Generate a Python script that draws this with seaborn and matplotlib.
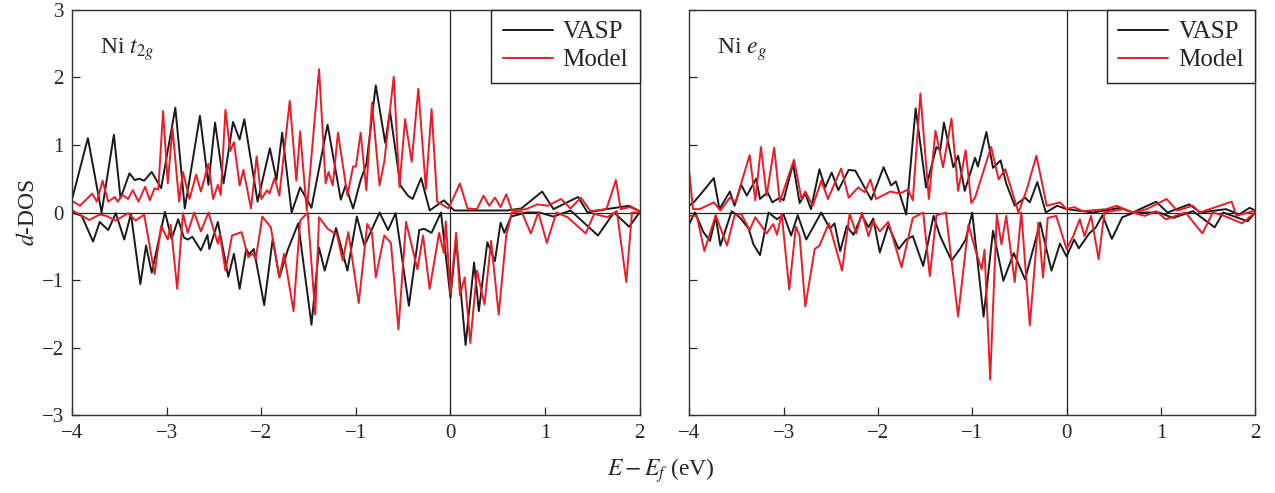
import numpy as np
import pandas as pd
import matplotlib
matplotlib.use("Agg")
import matplotlib.pyplot as plt
import seaborn as sns

# ---------------- data (E - Ef in eV, d-DOS) ----------------
t2g_vasp_up = [(-4.0, 0.21), (-3.835, 1.10), (-3.69, 0.0), (-3.56, 1.15), (-3.49, 0.21), (-3.395, 0.58),
               (-3.34, 0.48), (-3.29, 0.50), (-3.24, 0.47), (-3.16, 0.60), (-3.06, 0.36), (-2.91, 1.55),
               (-2.81, 0.06), (-2.65, 1.43), (-2.56, 0.41), (-2.49, 1.33), (-2.40, 0.43), (-2.30, 1.34),
               (-2.23, 1.08), (-2.18, 1.38), (-2.04, 0.16), (-1.91, 0.95), (-1.84, 0.48), (-1.78, 1.18),
               (-1.68, 0.0), (-1.59, 0.37), (-1.47, 0.07), (-1.30, 1.30), (-1.16, 0.19), (-1.11, 0.40),
               (-1.03, 0.06), (-0.95, 0.48), (-0.89, 0.71), (-0.79, 1.88), (-0.69, 1.03), (-0.64, 1.50),
               (-0.53, 0.40), (-0.45, 0.25), (-0.40, 0.20), (-0.31, 0.51), (-0.22, 0.03), (-0.07, 0.18),
               (0.04, 0.03), (0.30, 0.03), (0.60, 0.03), (0.75, 0.06), (0.97, 0.31), (1.09, 0.05),
               (1.35, 0.23), (1.45, 0.0), (1.65, 0.05), (1.89, 0.10), (2.0, 0.02)]

t2g_model_up = [(-4.0, 0.17), (-3.92, 0.10), (-3.79, 0.28), (-3.74, 0.16), (-3.68, 0.47), (-3.62, 0.16),
                (-3.55, 0.23), (-3.52, 0.16), (-3.47, 0.26), (-3.41, 0.20), (-3.36, 0.33), (-3.30, 0.16),
                (-3.23, 0.38), (-3.18, 0.18), (-3.13, 0.36), (-3.09, 0.34), (-3.04, 1.50), (-2.99, 0.43),
                (-2.94, 1.25), (-2.87, 0.16), (-2.83, 0.60), (-2.76, 0.20), (-2.69, 0.56), (-2.64, 0.31),
                (-2.56, 0.72), (-2.51, 0.20), (-2.46, 0.41), (-2.43, 0.26), (-2.38, 1.52), (-2.33, 0.91),
                (-2.29, 1.04), (-2.23, 0.40), (-2.19, 0.63), (-2.11, 0.06), (-2.05, 0.83), (-2.00, 0.20),
                (-1.94, 0.33), (-1.915, 0.28), (-1.86, 0.51), (-1.81, 0.25), (-1.70, 1.65), (-1.63, 0.47),
                (-1.59, 1.20), (-1.52, 0.03), (-1.39, 2.12), (-1.32, 0.43), (-1.29, 0.60), (-1.245, 0.40),
                (-1.19, 1.18), (-1.09, 0.25), (-1.03, 0.68), (-1.00, 0.68), (-0.95, 1.18), (-0.89, 0.33),
                (-0.83, 1.63), (-0.75, 0.40), (-0.70, 0.75), (-0.60, 2.01), (-0.54, 0.38), (-0.48, 1.38),
                (-0.41, 0.75), (-0.34, 1.83), (-0.26, 0.35), (-0.20, 1.53), (-0.14, 0.16), (-0.02, 0.06),
                (0.10, 0.43), (0.18, 0.06), (0.28, 0.05), (0.35, 0.25), (0.41, 0.10), (0.47, 0.22),
                (0.53, 0.08), (0.59, 0.27), (0.65, 0.03), (0.80, 0.05), (0.92, 0.12), (1.03, 0.10),
                (1.17, 0.20), (1.27, 0.06), (1.38, 0.22), (1.48, 0.02), (1.65, 0.05), (1.75, 0.48),
                (1.80, 0.05), (1.90, 0.08), (2.0, 0.02)]

t2g_vasp_dn = [(-4.0, 0.0), (-3.90, -0.05), (-3.78, -0.43), (-3.71, -0.14), (-3.62, -0.26), (-3.54, -0.01),
               (-3.45, -0.40), (-3.38, -0.02), (-3.28, -1.06), (-3.22, -0.49), (-3.16, -0.89), (-3.02, 0.01),
               (-2.95, -0.39), (-2.88, -0.10), (-2.82, -0.37), (-2.78, -0.40), (-2.73, -0.36), (-2.64, -0.56),
               (-2.57, -0.33), (-2.55, -0.54), (-2.46, -0.14), (-2.35, -0.95), (-2.29, -0.61), (-2.23, -1.13),
               (-2.16, -0.54), (-2.13, -0.62), (-2.08, -0.54), (-1.97, -1.37), (-1.88, -0.39), (-1.81, -0.96),
               (-1.72, -0.55), (-1.61, -0.16), (-1.47, -1.66), (-1.39, -0.52), (-1.33, -0.86), (-1.21, -0.23),
               (-1.09, -0.86), (-0.99, -0.06), (-0.91, -0.49), (-0.75, 0.0), (-0.66, -0.26), (-0.58, -0.01),
               (-0.44, -1.38), (-0.33, -0.26), (-0.28, -0.24), (-0.20, -0.30), (-0.10, 0.0), (0.0, -1.26),
               (0.06, -0.39), (0.16, -1.96), (0.25, -0.74), (0.30, -1.46), (0.39, -0.44), (0.47, -0.72),
               (0.53, -0.15), (0.57, -0.30), (0.64, -0.06), (0.80, 0.0), (0.94, 0.0), (1.09, -0.06),
               (1.27, 0.03), (1.56, -0.34), (1.73, 0.0), (1.89, -0.21), (2.0, 0.0)]

t2g_model_dn = [(-4.0, 0.03), (-3.82, -0.11), (-3.71, -0.03), (-3.64, -0.05), (-3.54, -0.12), (-3.41, -0.01),
                (-3.33, -0.12), (-3.24, -0.03), (-3.13, -0.91), (-3.06, -0.20), (-2.99, -0.40), (-2.96, -0.18),
                (-2.89, -1.13), (-2.83, -0.01), (-2.78, -0.30), (-2.71, 0.0), (-2.64, -0.28), (-2.56, 0.0),
                (-2.46, -0.46), (-2.44, -0.32), (-2.38, -0.86), (-2.31, -0.34), (-2.21, -0.29), (-2.14, -0.66),
                (-2.09, -0.61), (-2.06, -0.69), (-1.99, -0.06), (-1.90, -0.22), (-1.81, -0.96), (-1.76, -0.61),
                (-1.66, -1.46), (-1.59, -0.12), (-1.51, 0.0), (-1.43, -1.51), (-1.39, -0.07), (-1.30, -0.24),
                (-1.20, -0.33), (-1.14, -0.71), (-1.08, -0.29), (-0.97, -1.34), (-0.88, -0.17), (-0.83, -0.30),
                (-0.79, -0.96), (-0.70, -0.34), (-0.63, -0.45), (-0.55, -1.73), (-0.47, -0.14), (-0.35, -0.84),
                (-0.29, -0.34), (-0.22, -1.13), (-0.12, -0.30), (-0.07, -0.60), (-0.05, -0.13), (0.0, -1.20),
                (0.06, -0.30), (0.10, -1.22), (0.15, -0.96), (0.21, -1.93), (0.28, -0.86), (0.36, -1.36),
                (0.43, -0.42), (0.51, -1.51), (0.59, -0.34), (0.65, 0.0), (0.75, 0.02), (0.85, -0.31),
                (0.93, 0.0), (1.02, -0.45), (1.12, 0.0), (1.24, -0.07), (1.43, -0.31), (1.52, -0.02),
                (1.66, -0.07), (1.76, 0.02), (1.86, -1.03), (1.92, 0.0), (2.0, 0.0)]

eg_vasp_up = [(-4.0, 0.10), (-3.94, 0.17), (-3.85, 0.32), (-3.74, 0.51), (-3.68, 0.05), (-3.57, 0.31),
              (-3.52, 0.10), (-3.45, 0.41), (-3.39, 0.25), (-3.29, 0.50), (-3.25, 0.20), (-3.17, 0.30),
              (-3.12, 0.15), (-3.04, 0.22), (-3.00, 0.18), (-2.90, 0.72), (-2.83, 0.14), (-2.77, 0.28),
              (-2.71, 0.05), (-2.62, 0.64), (-2.56, 0.37), (-2.49, 0.59), (-2.42, 0.33), (-2.31, 0.63),
              (-2.24, 0.62), (-2.07, 0.19), (-1.94, 0.67), (-1.86, 0.40), (-1.81, 0.46), (-1.70, -0.03),
              (-1.60, 1.54), (-1.49, 0.37), (-1.38, 0.97), (-1.34, 0.92), (-1.30, 1.33), (-1.20, 0.67),
              (-1.15, 0.84), (-1.08, 0.32), (-0.97, 0.81), (-0.94, 0.68), (-0.85, 1.19), (-0.78, 0.66),
              (-0.70, 0.77), (-0.64, 0.43), (-0.55, 0.10), (-0.44, 0.22), (-0.39, 0.15), (-0.31, 0.45),
              (-0.22, 0.0), (-0.10, 0.10), (0.0, 0.05), (0.28, 0.0), (0.49, 0.05), (0.56, 0.07),
              (0.70, 0.0), (0.95, 0.16), (1.07, 0.0), (1.30, 0.12), (1.42, 0.0), (1.69, 0.05),
              (1.83, -0.03), (1.94, 0.07), (2.0, 0.03)]

eg_model_up = [(-4.0, 0.60), (-3.96, 0.05), (-3.89, 0.05), (-3.74, 0.15), (-3.67, 0.03), (-3.57, 0.22),
               (-3.51, 0.15), (-3.36, 0.85), (-3.30, 0.18), (-3.24, 0.97), (-3.18, 0.25), (-3.10, 0.96),
               (-3.04, 0.16), (-2.89, 0.78), (-2.81, 0.20), (-2.77, 0.31), (-2.69, 0.10), (-2.60, 0.47),
               (-2.53, 0.20), (-2.39, 0.65), (-2.31, 0.22), (-2.21, 0.37), (-2.14, 0.30), (-2.08, 0.49),
               (-2.02, 0.20), (-1.87, 0.31), (-1.77, 0.28), (-1.68, 0.34), (-1.63, 0.18), (-1.55, 1.76),
               (-1.46, 0.20), (-1.39, 1.21), (-1.31, 0.67), (-1.22, 1.39), (-1.15, 0.32), (-1.07, 0.92),
               (-1.01, 0.14), (-0.97, 0.22), (-0.80, 0.97), (-0.72, 0.49), (-0.65, 0.64), (-0.51, 0.0),
               (-0.42, 0.35), (-0.32, 0.84), (-0.21, 0.10), (-0.07, 0.15), (0.0, 0.05), (0.08, 0.08),
               (0.17, 0.02), (0.42, 0.05), (0.53, 0.10), (0.70, 0.0), (0.85, 0.05), (1.06, 0.20),
               (1.17, 0.03), (1.34, 0.10), (1.41, 0.0), (1.75, 0.16), (1.80, -0.05), (2.0, 0.03)]

eg_vasp_dn = [(-4.0, -0.17), (-3.94, 0.0), (-3.85, -0.29), (-3.78, -0.42), (-3.72, -0.06), (-3.67, -0.49),
              (-3.55, 0.02), (-3.46, -0.08), (-3.37, -0.24), (-3.32, -0.47), (-3.25, -0.63), (-3.16, 0.0),
              (-3.07, -0.10), (-3.00, -0.03), (-2.92, -0.34), (-2.85, -0.04), (-2.76, -0.40), (-2.60, 0.0),
              (-2.51, -0.24), (-2.46, -0.16), (-2.40, -0.57), (-2.33, -0.20), (-2.26, -0.33), (-2.17, -0.04),
              (-2.10, -0.22), (-2.05, -0.09), (-1.98, -0.59), (-1.89, -0.19), (-1.78, -0.54), (-1.70, -0.40),
              (-1.63, -0.35), (-1.52, -0.79), (-1.41, -0.05), (-1.34, -0.35), (-1.22, -0.71), (-1.13, -0.54),
              (-1.07, -0.40), (-1.00, 0.0), (-0.88, -1.54), (-0.78, -0.27), (-0.67, -1.01), (-0.56, -0.60),
              (-0.44, -0.99), (-0.28, -0.15), (-0.16, -0.86), (-0.07, -0.46), (0.0, -0.65), (0.08, -0.40),
              (0.13, -0.53), (0.24, -0.31), (0.31, -0.22), (0.38, -0.04), (0.48, -0.39), (0.59, -0.07),
              (0.72, 0.0), (0.98, 0.0), (1.13, -0.08), (1.34, 0.02), (1.57, -0.22), (1.66, 0.0),
              (1.92, -0.13), (2.0, 0.0)]

eg_model_dn = [(-4.0, -0.05), (-3.92, -0.05), (-3.84, -0.57), (-3.72, -0.04), (-3.60, -0.49), (-3.52, -0.04),
               (-3.45, -0.02), (-3.36, -0.26), (-3.30, -0.07), (-3.18, -0.31), (-3.11, -0.17), (-3.07, -0.33),
               (-3.02, -0.02), (-2.94, -1.14), (-2.87, -0.21), (-2.83, -0.35), (-2.77, -1.39), (-2.67, -0.54),
               (-2.62, -0.49), (-2.52, -0.16), (-2.38, -0.86), (-2.30, -0.02), (-2.23, -0.31), (-2.17, 0.0),
               (-2.10, -0.35), (-2.05, -0.13), (-1.98, -0.28), (-1.89, -0.14), (-1.75, -0.81), (-1.63, -0.08),
               (-1.52, 0.0), (-1.45, -0.94), (-1.38, -0.04), (-1.28, 0.0), (-1.15, -1.54), (-1.04, -0.18),
               (-0.97, -0.54), (-0.90, -0.84), (-0.87, -0.55), (-0.81, -2.47), (-0.74, -0.03), (-0.69, -0.47),
               (-0.64, -0.05), (-0.55, -1.03), (-0.48, 0.0), (-0.39, -1.67), (-0.30, -0.15), (-0.25, -0.96),
               (-0.20, -0.08), (-0.11, -0.05), (0.0, -0.54), (0.07, -0.35), (0.14, -0.10), (0.19, -0.35),
               (0.26, -0.05), (0.34, -0.69), (0.40, 0.0), (0.60, 0.05), (0.70, 0.0), (0.83, -0.05),
               (0.95, 0.02), (1.05, -0.10), (1.26, 0.0), (1.44, -0.31), (1.55, 0.0), (1.67, -0.05),
               (1.86, -0.16), (2.0, 0.0)]

panel_labels = [r"Ni $t_{2g}$", r"Ni $e_g$"]
series_names = ["VASP", "Model"]
x_ticks = [-4, -3, -2, -1, 0, 1, 2]
y_ticks = [-3, -2, -1, 0, 1, 2, 3]

# ---------------- style ----------------
sns.set_style("ticks")
plt.rcParams["font.family"] = ["Liberation Serif", "DejaVu Serif"]
plt.rcParams["mathtext.fontset"] = "stix"
plt.rcParams["axes.unicode_minus"] = True

colors = {"VASP": "#1a1a1a", "Model": "#ec1c24"}

fig = plt.figure(figsize=(12.75, 4.93), dpi=100)
ax1 = fig.add_axes([0.0567, 0.1576, 0.4449, 0.8227])
ax2 = fig.add_axes([0.5406, 0.1576, 0.4439, 0.8227])

panels = [
    (ax1, panel_labels[0], {"VASP": (t2g_vasp_up, t2g_vasp_dn), "Model": (t2g_model_up, t2g_model_dn)}),
    (ax2, panel_labels[1], {"VASP": (eg_vasp_up, eg_vasp_dn), "Model": (eg_model_up, eg_model_dn)}),
]

for ax, label, data in panels:
    for name in series_names:
        up, dn = data[name]
        for k, part in enumerate((up, dn)):
            df = pd.DataFrame(part, columns=["E", "DOS"])
            sns.lineplot(data=df, x="E", y="DOS", ax=ax, color=colors[name], lw=1.4,
                         estimator=None, sort=False, legend=False)
    for ln in ax.get_lines():
        ln.set_solid_joinstyle("round")
    ax.axhline(0, color="#222222", lw=0.9, zorder=1)
    ax.axvline(0, color="#222222", lw=0.9, zorder=1)
    ax.set_xlim(-4, 2)
    ax.set_ylim(-3, 3)
    ax.set_xticks(x_ticks)
    ax.set_yticks(y_ticks)
    ax.tick_params(direction="in", length=6, width=0.9, labelsize=15, pad=6,
                   top=False, right=False)
    for sp in ax.spines.values():
        sp.set_linewidth(1.0)
        sp.set_color("#333333")
    ax.set_xlabel("")
    ax.set_ylabel("")
    ax.text(0.049, 0.935, label, transform=ax.transAxes, fontsize=17, va="top", ha="left")
    handles = [plt.Line2D([], [], color=colors[n], lw=1.4) for n in series_names]
    leg = ax.legend(handles, series_names, loc="upper right", borderaxespad=0.0,
                    fancybox=False, framealpha=1, edgecolor="#222222", fontsize=18,
                    handlelength=2.0, handletextpad=0.4, borderpad=0.45, labelspacing=0.22)
    leg.get_frame().set_linewidth(1.0)

ax2.set_yticklabels([])
ax1.set_ylabel(r"$d$-DOS", fontsize=17, labelpad=2)
fig.text(0.518, 0.045, r"$E-E_f$ (eV)", fontsize=17, ha="center", va="center")

fig.savefig("out.png", dpi=100)
